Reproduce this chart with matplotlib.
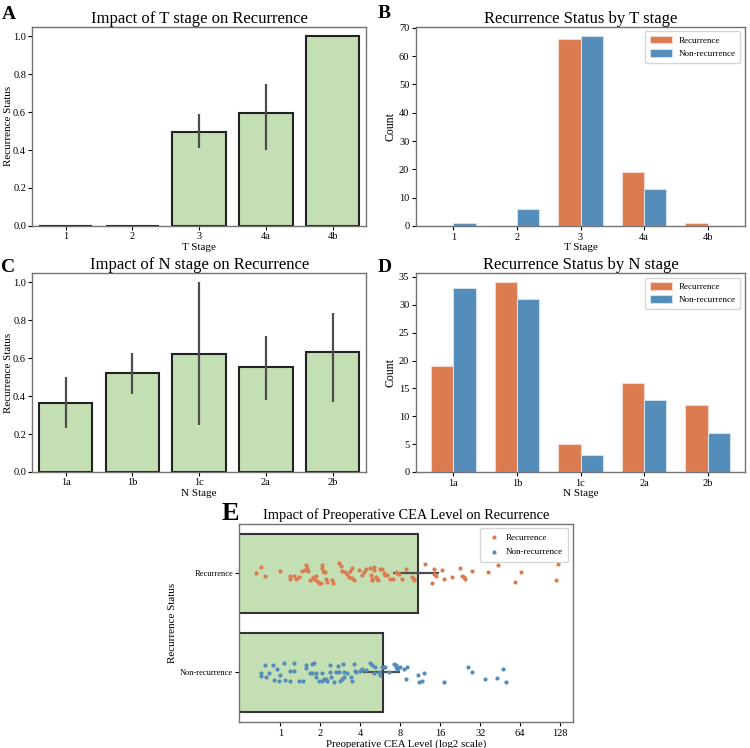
import numpy as np
import matplotlib
matplotlib.use("Agg")
from matplotlib import pyplot as plt
from matplotlib.ticker import FixedLocator, NullLocator

plt.rcParams['font.family'] = ['Liberation Serif', 'DejaVu Serif']
plt.rcParams['axes.edgecolor'] = '0.45'
plt.rcParams['axes.linewidth'] = 1.0

# ---- data ----
t_stages = ['1', '2', '3', '4a', '4b']
t_rate = [0.0, 0.0, 0.496, 0.594, 1.0]
t_ci_low = [0.0, 0.0, 0.41, 0.40, 1.0]
t_ci_high = [0.0, 0.0, 0.59, 0.75, 1.0]
t_rec = [0, 0, 66, 19, 1]
t_non = [1, 6, 67, 13, 0]

n_stages = ['1a', '1b', '1c', '2a', '2b']
n_rate = [0.365, 0.523, 0.625, 0.552, 0.632]
n_ci_low = [0.23, 0.41, 0.25, 0.38, 0.37]
n_ci_high = [0.50, 0.63, 1.00, 0.72, 0.84]
n_rec = [19, 34, 5, 16, 12]
n_non = [33, 31, 3, 13, 7]

groups = ['Recurrence', 'Non-recurrence']
cea_mean = [10.9, 5.97]
cea_ci_low = [7.1, 4.2]
cea_ci_high = [15.7, 7.9]

rec_cea = [0.65, 0.71, 0.77, 0.99, 1.19, 1.19, 1.27, 1.30, 1.37, 1.46,
           1.52, 1.57, 1.59, 1.61, 1.68, 1.76, 1.80, 1.84, 1.89, 1.95,
           2.02, 2.06, 2.07, 2.08, 2.12, 2.17, 2.19, 2.24, 2.46, 2.49,
           2.76, 2.86, 2.93, 3.07, 3.17, 3.29, 3.33, 3.44, 3.48, 3.60,
           3.91, 4.14, 4.24, 4.44, 4.76, 4.81, 4.87, 4.92, 5.04, 5.10,
           5.22, 5.34, 5.40, 5.66, 5.86, 5.99, 6.13, 6.35, 6.73, 7.05,
           7.38, 7.55, 7.82, 8.19, 8.88, 9.74, 10.08, 10.20, 12.27, 13.93,
           14.25, 14.42, 14.76, 16.37, 16.95, 19.47, 22.37, 23.42, 24.25, 24.53,
           27.54, 36.76, 43.71, 59.0, 64.7, 119.4, 123.6]
rec_jit = [0.00, -0.06, 0.03, -0.02, 0.03, 0.06, 0.03, 0.06, 0.04, -0.02,
           -0.03, -0.08, -0.05, -0.02, 0.07, 0.04, 0.06, 0.03, 0.08, 0.10,
           0.10, -0.08, -0.05, -0.02, -0.01, -0.01, 0.06, 0.09, 0.07, 0.10,
           -0.10, -0.07, -0.02, -0.01, 0.01, 0.04, -0.02, -0.05, 0.05, 0.07,
           -0.03, 0.02, -0.01, -0.04, -0.05, 0.02, 0.06, 0.07, -0.03, -0.06,
           0.04, 0.06, 0.07, -0.04, -0.04, 0.00, 0.02, 0.02, 0.06, 0.06,
           -0.01, 0.00, 0.01, 0.06, -0.04, 0.04, 0.07, 0.06, -0.09, 0.10,
           -0.04, 0.01, 0.03, -0.03, 0.06, 0.04, -0.05, 0.03, 0.04, 0.06,
           -0.02, -0.01, -0.08, 0.09, -0.01, 0.07, -0.09]

non_cea = [0.71, 0.72, 0.77, 0.78, 0.82, 0.88, 0.90, 0.95, 0.98, 0.99,
           1.07, 1.08, 1.18, 1.19, 1.27, 1.27, 1.37, 1.48, 1.55, 1.57,
           1.66, 1.72, 1.74, 1.78, 1.84, 1.87, 1.95, 2.05, 2.07, 2.14,
           2.19, 2.24, 2.35, 2.38, 2.41, 2.55, 2.64, 2.70, 2.76, 2.80,
           2.89, 2.96, 3.00, 3.03, 3.17, 3.40, 3.48, 3.56, 3.65, 3.73,
           3.95, 4.05, 4.14, 4.39, 4.76, 4.92, 5.10, 5.16, 5.53, 5.66,
           5.86, 5.99, 6.13, 6.57, 7.21, 7.38, 7.46, 7.55, 7.73, 8.00,
           8.57, 8.77, 8.98, 10.80, 11.05, 11.71, 12.13, 16.95, 26.0, 27.54,
           34.7, 42.7, 47.4, 50.2]
non_jit = [0.01, 0.04, -0.07, 0.05, 0.01, -0.07, 0.08, -0.03, 0.09, 0.03,
           -0.09, 0.08, 0.09, -0.01, -0.09, -0.01, 0.09, 0.09, -0.04, -0.07,
           0.01, -0.08, 0.01, -0.09, 0.01, 0.05, 0.09, 0.09, 0.01, 0.07,
           0.07, 0.09, -0.07, 0.00, 0.05, 0.10, 0.00, -0.06, 0.00, 0.09,
           0.07, -0.08, 0.00, 0.05, 0.01, 0.05, 0.09, -0.08, -0.01, 0.00,
           -0.01, -0.02, -0.03, -0.02, -0.09, -0.07, 0.01, -0.05, 0.00, 0.03,
           -0.05, -0.05, -0.05, 0.00, -0.08, -0.07, -0.05, -0.03, -0.04, -0.05,
           -0.03, 0.07, -0.05, 0.03, 0.10, 0.09, 0.01, 0.10, -0.05, 0.00,
           0.07, 0.06, -0.03, 0.10]

green = '#c5dfb4'
orange = '#dd7b50'
blue = '#548cba'
errc = '#4d4d4d'

fig = plt.figure(figsize=(7.5, 7.48), dpi=100)

axA = fig.add_axes([0.043, 0.698, 0.445, 0.266])
axB = fig.add_axes([0.555, 0.698, 0.438, 0.266])
axC = fig.add_axes([0.043, 0.369, 0.445, 0.266])
axD = fig.add_axes([0.555, 0.369, 0.438, 0.266])
axE = fig.add_axes([0.319, 0.035, 0.445, 0.265])


def rate_panel(ax, stages, rate, lo, hi, title, xlabel):
    x = np.arange(len(stages))
    ax.bar(x, rate, width=0.8, color=green, edgecolor='#222222', linewidth=1.5)
    for xi, a, b in zip(x, lo, hi):
        if b > a:
            ax.plot([xi, xi], [a, b], color=errc, lw=1.6, solid_capstyle='butt')
    ax.set_xlim(-0.5, len(stages) - 0.5)
    ax.set_ylim(0, 1.05)
    ax.set_xticks(x)
    ax.set_xticklabels(stages)
    ax.set_yticks([0, 0.2, 0.4, 0.6, 0.8, 1.0])
    ax.set_title(title, fontsize=12, pad=3)
    ax.set_xlabel(xlabel, fontsize=8, labelpad=1)
    ax.set_ylabel('Recurrence Status', fontsize=8, labelpad=0)
    ax.tick_params(labelsize=7.5, length=3, pad=1.5)


def count_panel(ax, stages, rec, non, title, xlabel):
    x = np.arange(len(stages))
    ax.bar(x - 0.175, rec, width=0.35, color=orange, edgecolor='#f3d9cc',
           linewidth=0.8, label='Recurrence')
    ax.bar(x + 0.175, non, width=0.35, color=blue, edgecolor='#cfe0ee',
           linewidth=0.8, label='Non-recurrence')
    ax.set_xticks(x)
    ax.set_xticklabels(stages)
    ax.set_title(title, fontsize=12, pad=3)
    ax.set_xlabel(xlabel, fontsize=8, labelpad=1)
    ax.set_ylabel('Count', fontsize=8.5, labelpad=2)
    ax.tick_params(labelsize=7.5, length=3, pad=2)
    ax.legend(loc='upper right', fontsize=6.5, handlelength=2.4,
              handleheight=0.9, borderpad=0.5, labelspacing=0.5, fancybox=True)


rate_panel(axA, t_stages, t_rate, t_ci_low, t_ci_high,
           'Impact of T stage on Recurrence', 'T Stage')
count_panel(axB, t_stages, t_rec, t_non, 'Recurrence Status by T stage', 'T Stage')
axB.set_yticks(np.arange(0, 71, 10))
rate_panel(axC, n_stages, n_rate, n_ci_low, n_ci_high,
           'Impact of N stage on Recurrence', 'N Stage')
count_panel(axD, n_stages, n_rec, n_non, 'Recurrence Status by N stage', 'N Stage')
axD.set_yticks(np.arange(0, 36, 5))

# ---- panel E ----
axE.set_xscale('log', base=2)
y = np.arange(len(groups))
axE.barh(y, cea_mean, height=0.8, left=0.01, color=green,
         edgecolor='#333333', linewidth=1.5)
for yi, a, b in zip(y, cea_ci_low, cea_ci_high):
    axE.plot([a, b], [yi, yi], color=errc, lw=1.6, solid_capstyle='butt')
axE.scatter(rec_cea, 0 + np.array(rec_jit), s=9, color=orange,
            linewidths=0, label='Recurrence', zorder=3)
axE.scatter(non_cea, 1 + np.array(non_jit), s=9, color=blue,
            linewidths=0, label='Non-recurrence', zorder=3)
axE.set_xlim(0.49, 160)
axE.set_ylim(1.5, -0.5)
ticks = [1, 2, 4, 8, 16, 32, 64, 128]
axE.xaxis.set_major_locator(FixedLocator(ticks))
axE.xaxis.set_minor_locator(NullLocator())
axE.set_xticklabels([str(t) for t in ticks])
axE.set_yticks(y)
axE.set_yticklabels(groups)
axE.set_title('Impact of Preoperative CEA Level on Recurrence', fontsize=10.4, pad=3)
axE.set_xlabel('Preoperative CEA Level (log2 scale)', fontsize=7.8, labelpad=1)
axE.set_ylabel('Recurrence Status', fontsize=8, labelpad=2)
axE.tick_params(axis='x', labelsize=7.5, length=3, pad=2)
axE.tick_params(axis='y', labelsize=6, length=3, pad=1.5)
axE.legend(loc='upper right', fontsize=6.5, markerscale=1.0, borderpad=0.6,
           labelspacing=0.7, handletextpad=0.3)

# panel letters
for lab, (lx, ly), fs in zip('ABCDE',
                             [(0.002, 0.975), (0.503, 0.976), (0.002, 0.636),
                              (0.503, 0.636), (0.295, 0.305)],
                             [14, 14, 14, 14, 19]):
    fig.text(lx, ly, lab, fontsize=fs, fontweight='bold', va='baseline', ha='left')

fig.savefig('out.png', dpi=100)
